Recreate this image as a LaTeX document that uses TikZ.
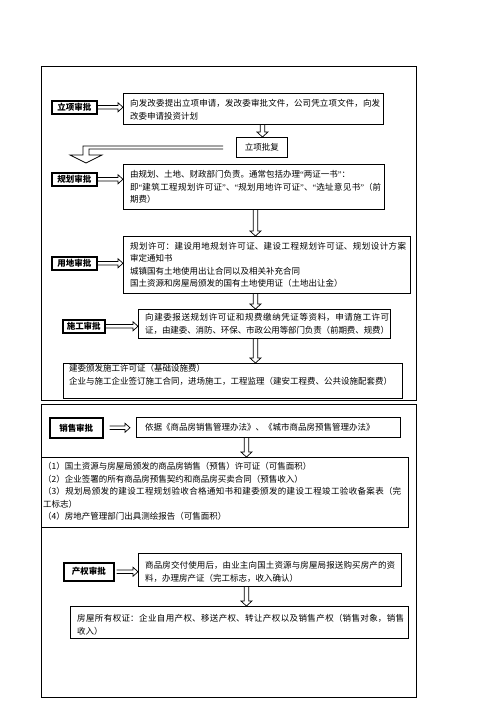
\documentclass[tikz,border=0pt]{standalone}
\usepackage{fontspec}
\setmainfont{Noto Sans CJK SC}
\newfontfamily\qfont{Liberation Serif}
\newcommand\qlft{{\qfont “}}
\newcommand\qrgt{{\qfont ”}}
\usetikzlibrary{calc}
\XeTeXlinebreaklocale "zh"
\XeTeXlinebreakskip=0pt plus 1.5pt minus 0.5pt
\begin{document}
\begin{tikzpicture}[x=1pt,y=-1pt,
  font=\fontsize{8.5pt}{12.5pt}\selectfont,
  frame/.style={draw, line width=1.2pt, anchor=north west, inner sep=0pt},
  tbox/.style={draw, line width=0.9pt, anchor=north west, inner sep=0pt},
  lbl/.style={draw, line width=1.5pt, anchor=north west, inner sep=0pt, font=\fontsize{8.5pt}{12.5pt}\selectfont\bfseries},
  txt/.style={anchor=north west, inner sep=0pt, align=justify},
  harrow/.style={line width=0.7pt, to path={let \p1=(\tikztostart), \p2=(\tikztotarget) in
     (\x1,\y1+1.7pt) -- (\x2-5pt,\y1+1.7pt) -- (\x2-5pt,\y1+4.5pt) -- (\x2,\y1)
     -- (\x2-5pt,\y1-4.5pt) -- (\x2-5pt,\y1-1.7pt) -- (\x1,\y1-1.7pt)}},
  varrow/.style={line width=0.7pt, to path={let \p1=(\tikztostart), \p2=(\tikztotarget) in
     (\x1-2.2pt,\y1) -- (\x1-2.2pt,\y2+5pt) -- (\x1-5.5pt,\y2+5pt) -- (\x1,\y2)
     -- (\x1+5.5pt,\y2+5pt) -- (\x1+2.2pt,\y2+5pt) -- (\x1+2.2pt,\y1)}}]
\useasboundingbox[fill=white] (0,0) rectangle (496,702);

% frames
\node[frame, minimum width=375pt, minimum height=334pt] (f1) at (41,66) {};
\node[frame, minimum width=375pt, minimum height=293pt] (f2) at (41,404) {};

% 立项
\node[lbl, minimum width=45pt, minimum height=13pt] (l1) at (51,100) {立项审批};
\node[tbox, minimum width=260pt, minimum height=31pt] (b1) at (123,93) {};
\node[txt, text width=250pt] (t1) at (130,99.5) {向发改委提出立项申请，发改委审批文件，公司凭立项文件，向发\linebreak 改委申请投资计划};
\draw[harrow] (l1.east) to (b1.west);
\node[tbox, minimum width=51pt, minimum height=20pt] (p1) at (236,137) {立项批复};
\draw[varrow] ([xshift=9pt]b1.south) to (p1.north);
\coordinate (e1) at (86,163);
\draw[line width=0.7pt] let \p1=(p1.west), \p2=(e1) in
  (\x1-13pt,\y1+1.5pt) -- (\x2-3pt,\y1+1.5pt) -- (\x2-3pt,\y2+8pt) -- (\x2-16pt,\y2+8pt)
  -- (\x2,\y2) -- (\x2+16pt,\y2+8pt) -- (\x2+3pt,\y2+8pt) -- (\x2+3pt,\y1-1.5pt) -- (\x1-13pt,\y1-1.5pt);

% 规划
\node[lbl, minimum width=45pt, minimum height=13pt] (l2) at (51,172) {规划审批};
\node[tbox, minimum width=261pt, minimum height=45pt] (b2) at (123,164) {};
\node[txt, text width=251pt] (t2) at (130,170.5) {由规划、土地、财政部门负责。通常包括办理\qlft 两证一书\qrgt ：\\ 即\qlft 建筑工程规划许可证\qrgt 、\qlft 规划用地许可证\qrgt 、\qlft 选址意见书\qrgt （前\linebreak 期费）};
\draw[harrow] (l2.east) to (b2.west);

% 用地
\node[lbl, minimum width=45pt, minimum height=13pt] (l3) at (51,256) {用地审批};
\node[tbox, minimum width=287pt, minimum height=57pt] (b3) at (123,236) {};
\node[txt, text width=276pt] (t3) at (130,242) {规划许可：建设用地规划许可证、建设工程规划许可证、规划设计方案\linebreak 审定通知书\\ 城镇国有土地使用出让合同以及相关补充合同\\ 国土资源和房屋局颁发的国有土地使用证（土地出让金）};
\draw[harrow] (l3.east) to (b3.west);
\draw[varrow] ([xshift=1.5pt]b2.south) to (b3.north);

% 施工
\node[lbl, minimum width=42pt, minimum height=13pt] (l4) at (62,319) {施工审批};
\node[tbox, minimum width=252pt, minimum height=29pt] (b4) at (138,309) {};
\node[txt, text width=244pt] (t4) at (145,313.5) {向建委报送规划许可证和规费缴纳凭证等资料，申请施工许可\linebreak 证，由建委、消防、环保、市政公用等部门负责（前期费、规费）};
\draw[harrow] (l4.east) to (b4.west);
\draw[varrow] ([xshift=-11.5pt]b3.south) to (b4.north);

\node[tbox, minimum width=339pt, minimum height=35pt] (b5) at (63,363) {};
\node[txt, text width=330pt] (t5) at (69,364.5) {建委颁发施工许可证（基础设施费）\\ 企业与施工企业签订施工合同，进场施工，工程监理（建安工程费、公共设施配套费）};
\draw[varrow] ([xshift=-9pt]b4.south) to (b5.north);

% 销售
\node[lbl, minimum width=53pt, minimum height=20pt] (l5) at (49,417) {销售审批};
\node[tbox, minimum width=264pt, minimum height=20pt] (b6) at (136,417) {};
\node[txt, text width=250pt] (t6) at (145,423.5) {依据《商品房销售管理办法》、《城市商品房预售管理办法》};
\draw[harrow] ([xshift=6pt]l5.east) to ([xshift=-6pt]b6.west);

\node[tbox, minimum width=367pt, minimum height=70pt] (b7) at (41,457) {};
\node[txt, text width=358pt] (t7) at (43,462.5) {（1）国土资源与房屋局颁发的商品房销售（预售）许可证（可售面积）\\ （2）企业签署的所有商品房预售契约和商品房买卖合同（预售收入）\\ （3）规划局颁发的建设工程规划验收合格通知书和建委颁发的建设工程竣工验收备案表（完\linebreak 工标志）\\ （4）房地产管理部门出具测绘报告（可售面积）};
\draw[varrow] ([xshift=-22pt]b6.south) to (b7.north);

% 产权
\node[lbl, minimum width=50pt, minimum height=18pt] (l6) at (63,562) {产权审批};
\node[tbox, minimum width=263pt, minimum height=33pt] (b8) at (138,553) {};
\node[txt, text width=250pt] (t8) at (145,561.5) {商品房交付使用后，由业主向国土资源与房屋局报送购买房产的资\linebreak 料，办理房产证（完工标志，收入确认）};
\draw[harrow] ([xshift=2pt]l6.east) to (b8.west);

\node[tbox, minimum width=338pt, minimum height=32pt] (b9) at (70,606) {};
\node[txt, text width=327pt] (t9) at (77,614.5) {房屋所有权证：企业自用产权、移送产权、转让产权以及销售产权（销售对象，销售\linebreak 收入）};
\draw[varrow] ([xshift=-23.5pt]b8.south) to (b9.north);
\end{tikzpicture}
\end{document}
